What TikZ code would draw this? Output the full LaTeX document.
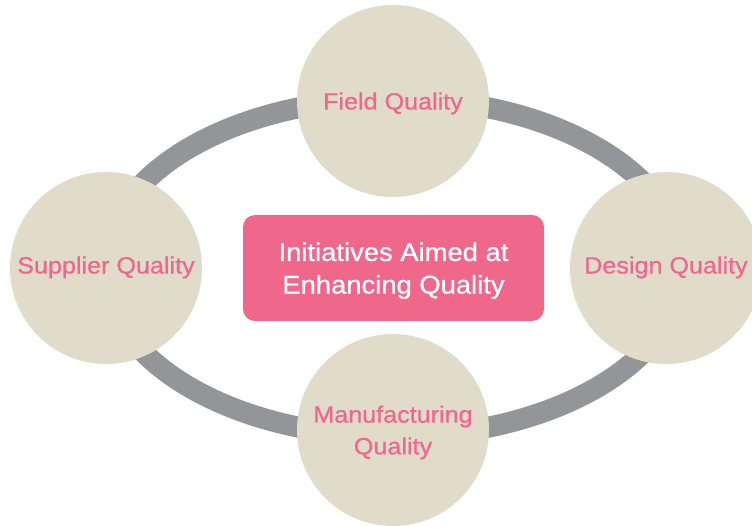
\documentclass[tikz,border=0pt]{standalone}
\usepackage{fontspec}
\setmainfont{Liberation Sans}[FakeStretch=1.07,FakeBold=0.7]
\definecolor{ringgray}{RGB}{147,149,152}
\definecolor{petal}{RGB}{225,219,201}
\definecolor{rosetext}{RGB}{238,103,145}
\definecolor{rosebox}{RGB}{240,103,140}
\begin{document}
\begin{tikzpicture}[x=1pt,y=1pt,
  petalnode/.style={circle, fill=petal, draw=none, minimum size=192pt, inner sep=0pt,
    text=rosetext, align=center, text depth=0pt,
    font=\fontsize{23.5}{31.7}\selectfont},
  sidepetal/.style={petalnode, text depth=6pt},
  hubnode/.style={rectangle, rounded corners=12pt, fill=rosebox, draw=none,
    minimum width=301pt, minimum height=106pt, inner sep=0pt,
    text=white, align=center, text depth=0pt,
    font=\fontsize{25.6}{32.6}\selectfont},
  ring/.style={draw=ringgray, line width=21pt}]
  \useasboundingbox (0,0) rectangle (752,525);
  \clip (0,0) rectangle (752,525);

  % centre of the loop
  \coordinate (ctr) at (393.5,257.5);
  \draw[ring] (ctr) ellipse [x radius=289pt, y radius=169pt];

  % the four quality areas on the loop
  \node[petalnode] (field)  at (393,424) {Field Quality};
  \node[sidepetal] (supply) at (106,257) {Supplier Quality};
  \node[sidepetal] (design) at (666,257) {Design Quality};
  \node[petalnode] (manuf)  at (393,95)  {Manufacturing\\Quality};

  % central initiative box
  \node[hubnode] (hub) at (393.5,257) {Initiatives Aimed at\\Enhancing Quality};
\end{tikzpicture}
\end{document}
